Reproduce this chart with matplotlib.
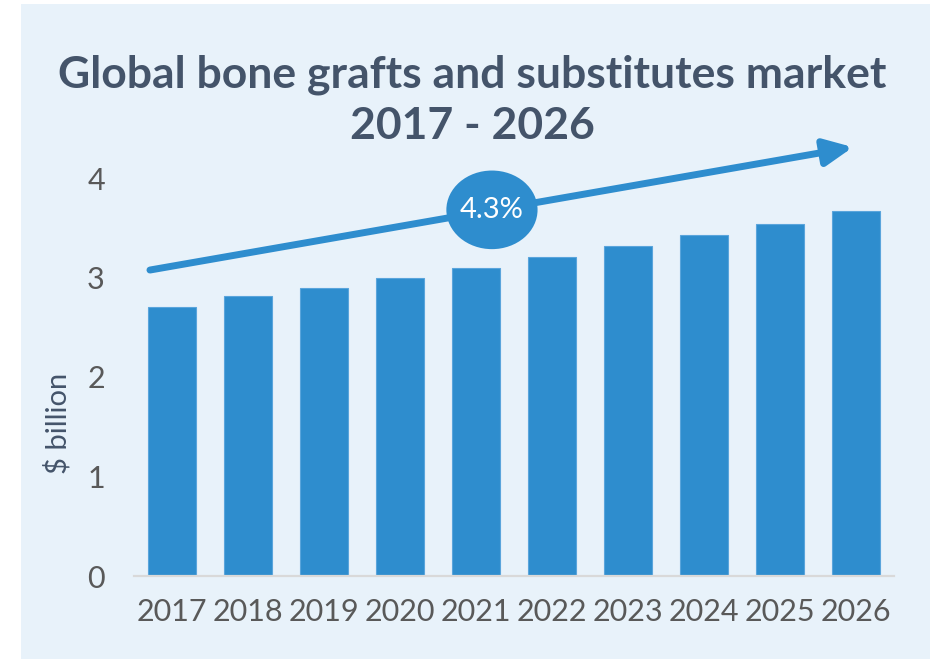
import matplotlib
matplotlib.use("Agg")
import matplotlib.pyplot as plt
from matplotlib.patches import Ellipse, Rectangle

years = ["2017", "2018", "2019", "2020", "2021", "2022", "2023", "2024", "2025", "2026"]
values = [2.70, 2.81, 2.89, 3.00, 3.10, 3.21, 3.32, 3.43, 3.54, 3.67]
y_ticks = [0, 1, 2, 3, 4]
title = "Global bone grafts and substitutes market\n2017 - 2026"
cagr_label = "4.3%"
y_label = "$ billion"

BAR = "#2E8DCE"
PANEL = "#E8F2FA"
DARK = "#44546A"
GREY = "#595959"

plt.rcParams["font.family"] = ["Lato", "DejaVu Sans"]

W, H = 930, 659
fig = plt.figure(figsize=(W / 100, H / 100), dpi=100, facecolor="white")

# light blue panel behind everything
fig.patches.append(Rectangle((21 / W, 0), 1 - 21 / W, 1 - 4 / H,
                             transform=fig.transFigure, facecolor=PANEL,
                             edgecolor="none", zorder=-10))

ax = fig.add_axes([134 / W, 83 / H, 760 / W, 398 / H])
ax.set_facecolor("none")

x = list(range(len(years)))
ax.bar(x, values, width=0.63, color=BAR, edgecolor="#5AA5DC", linewidth=0.8, zorder=2)

ax.set_xlim(-0.5, len(years) - 0.5)
ax.set_ylim(0, 4)
ax.set_yticks(y_ticks)
ax.set_xticks(x)
ax.set_xticklabels(years)
ax.tick_params(axis="both", length=0, labelsize=22, labelcolor=GREY)
ax.tick_params(axis="y", pad=21)
ax.tick_params(axis="x", pad=16)
for s in ["top", "right", "left"]:
    ax.spines[s].set_visible(False)
ax.spines["bottom"].set_color("#D9D9D9")
ax.spines["bottom"].set_linewidth(1.6)

# growth arrow
ax.annotate("", xy=(8.96, 4.31), xytext=(-0.29, 3.075),
            arrowprops=dict(arrowstyle="-|>,head_length=1.7,head_width=0.8",
                            lw=5, color=BAR, shrinkA=0, shrinkB=0),
            annotation_clip=False, zorder=3)

ax.add_patch(Ellipse((4.21, 3.68), 1.2, 0.79, facecolor=BAR, edgecolor="none",
                     clip_on=False, zorder=4))
ax.text(4.21, 3.68, cagr_label, color="white", fontsize=21, ha="center",
        va="center", zorder=5)

fig.text(0.508, 1 - 100 / H, title, ha="center", va="center", fontsize=32,
         fontweight="bold", color=DARK, linespacing=1.32)
fig.text(58 / W, 1 - 423 / H, y_label, rotation=90, ha="center", va="center",
         fontsize=21, color=DARK)

fig.savefig("out.png", dpi=100, facecolor="white")
